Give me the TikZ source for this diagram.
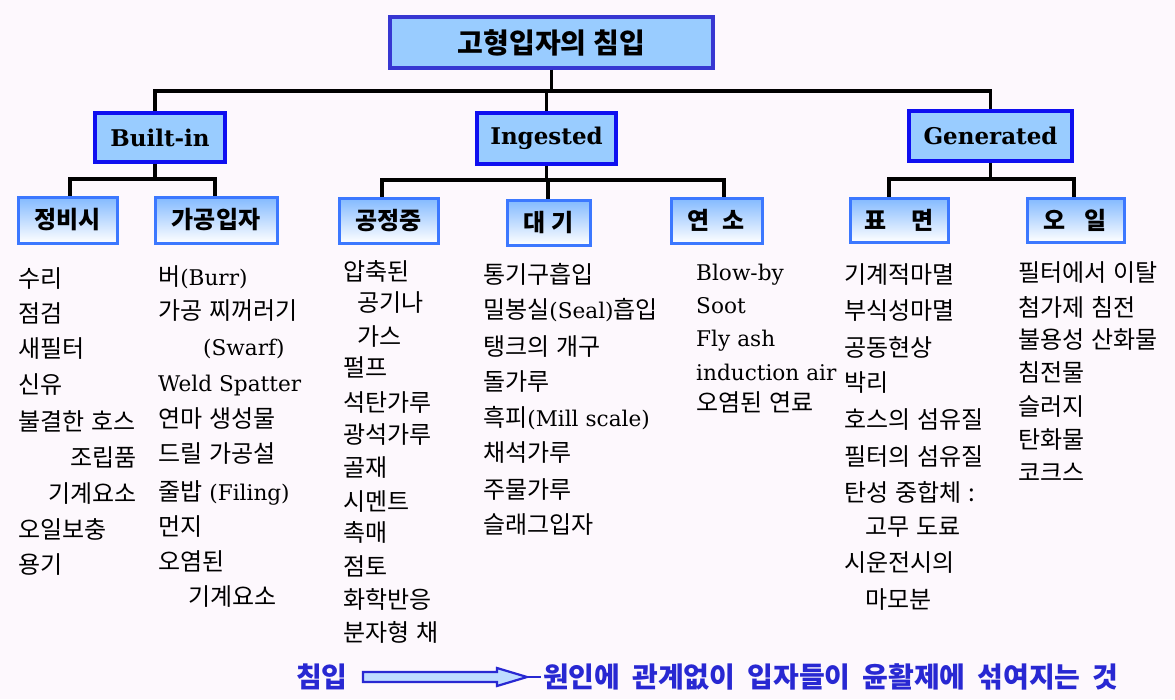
\documentclass[tikz,border=0pt]{standalone}
\usepackage{fontspec}
\newfontfamily\krf{Noto Sans CJK KR}
\newfontfamily\latf{DejaVu Serif}
\newfontfamily\latif[Scale=0.9]{DejaVu Serif}
\newcommand\la[1]{{\latif #1}}
\newcommand\titlefont{\krf\bfseries\fontsize{28}{32}\selectfont\spaceskip 7pt\relax}
\newcommand\itemfont{\krf\fontsize{24}{28}\selectfont\spaceskip 7pt\relax}
\newcommand\botfont{\krf\bfseries\fontsize{28}{32}\selectfont\spaceskip 12pt\relax}
\definecolor{bgcol}{RGB}{253,248,253}
\definecolor{boxblue}{RGB}{153,204,255}
\definecolor{titleborder}{RGB}{55,55,210}
\definecolor{midborder}{RGB}{15,15,240}
\definecolor{subborder}{RGB}{60,120,255}
\definecolor{subtop}{RGB}{130,185,255}
\definecolor{botblue}{RGB}{40,40,210}
\definecolor{arrowfill}{RGB}{190,220,255}
\begin{document}
\begin{tikzpicture}[x=1pt,y=-1pt,
 conn/.style={line width=3.2pt, draw=black},
 titlebox/.style={draw=titleborder, line width=3.2pt, fill=boxblue, inner sep=0, font=\titlefont},
 midbox/.style={draw=midborder, line width=3.2pt, fill=boxblue, inner sep=0,
   font=\latf\bfseries\fontsize{23}{27}\selectfont},
 subbox/.style={draw=subborder, line width=3pt, top color=subtop, bottom color=white, inner sep=0,
   font=\krf\bfseries\fontsize{24}{28}\selectfont},
 item/.style={anchor=base west, inner sep=0, font=\itemfont},
 bottxt/.style={anchor=west, inner sep=0, text=botblue, font=\botfont},
 arrowst/.style={draw=botblue, line width=2.2pt, fill=arrowfill, line join=miter},
]
\fill[bgcol] (0,0) rectangle (1175,699);
\useasboundingbox (0,0) rectangle (1175,699);

% boxes
\node[titlebox, minimum width=323, minimum height=51] (title) at (551.5,42.5) {고형입자의 침입};
\node[midbox, minimum width=130, minimum height=49] (built) at (160,137.5) {Built-in};
\node[midbox, minimum width=139, minimum height=51] (ing) at (546.5,138.5) {Ingested};
\node[midbox, minimum width=163, minimum height=50] (gen) at (990.5,136) {Generated};

\node[subbox, minimum width=99, minimum height=46] (jb) at (67.5,220) {정비시};
\node[subbox, minimum width=122, minimum height=46] (gg) at (216,220) {가공입자};
\node[subbox, minimum width=99, minimum height=45] (gj) at (388.5,220.5) {공정중};
\node[subbox, minimum width=83, minimum height=45] (dg) at (548.5,222.5) {대\hspace{6pt}기};
\node[subbox, minimum width=91, minimum height=45] (ys) at (716.5,220.5) {연\hspace{13pt}소};
\node[subbox, minimum width=98, minimum height=44] (pm) at (899,220) {표\hspace{24pt}면};
\node[subbox, minimum width=97, minimum height=44] (oi) at (1075.5,220) {오\hspace{19pt}일};

% connectors
\coordinate (bus1) at (547,91);
\coordinate (bus2) at (155,179);
\coordinate (bus3) at (548,180);
\coordinate (bus4) at (991,179);
\draw[conn] (title.south) -- (title.south |- bus1);
\draw[conn] ([xshift=-5]built.north) |- (bus1) -| (gen.north);
\draw[conn] (ing.north) -- (ing.north |- bus1);

\draw[conn] ([xshift=-5]built.south) -- (bus2);
\draw[conn] ([xshift=2.5]jb.north) |- (bus2) -| ([xshift=-1]gg.north);

\draw[conn] (ing.south) -- (ing.south |- bus3);
\draw[conn] ([xshift=-6.5]gj.north) |- (bus3) -| ([xshift=7.5]ys.north);
\draw[conn] ([xshift=-0.5]dg.north) -- ([xshift=-0.5]dg.north |- bus3);

\draw[conn] (gen.south) -- (gen.south |- bus4);
\draw[conn] ([xshift=-10]pm.north) |- (bus4) -| ([xshift=-1.5]oi.north);

% column 1
\node[item] (c1a) at (18,287) {수리};
\node[item] (c1b) at (18,322) {점검};
\node[item] (c1c) at (18,357) {새필터};
\node[item] (c1d) at (18,393) {신유};
\node[item] (c1e) at (18,430) {불결한 호스};
\node[item] (c1f) at (70,466) {조립품};
\node[item] (c1g) at (48,502) {기계요소};
\node[item] (c1h) at (18,538) {오일보충};
\node[item] (c1i) at (18,573) {용기};

% column 2
\node[item] (c2a) at (158,285) {버\la{(Burr)}};
\node[item] (c2b) at (158,319) {가공 찌꺼러기};
\node[item] (c2c) at (203,355) {\la{(Swarf)}};
\node[item] (c2d) at (158,391) {\la{Weld Spatter}};
\node[item] (c2e) at (158,427) {연마 생성물};
\node[item] (c2f) at (158,462) {드릴 가공설};
\node[item] (c2g) at (158,500) {줄밥 \la{(Filing)}};
\node[item] (c2h) at (158,535) {먼지};
\node[item] (c2i) at (158,570) {오염된};
\node[item] (c2j) at (188,605) {기계요소};

% column 3
\node[item] (c3a) at (343,280) {압축된};
\node[item] (c3b) at (357,311) {공기나};
\node[item] (c3c) at (357,345) {가스};
\node[item] (c3d) at (343,376) {펄프};
\node[item] (c3e) at (343,411) {석탄가루};
\node[item] (c3f) at (343,443) {광석가루};
\node[item] (c3g) at (343,476) {골재};
\node[item] (c3h) at (343,510) {시멘트};
\node[item] (c3i) at (343,541) {촉매};
\node[item] (c3j) at (343,575) {점토};
\node[item] (c3k) at (343,608) {화학반응};
\node[item] (c3l) at (343,641) {분자형 채};

% column 4
\node[item] (c4a) at (483,283) {통기구흡입};
\node[item] (c4b) at (483,318) {밀봉실\la{(Seal)}흡입};
\node[item] (c4c) at (483,355) {탱크의 개구};
\node[item] (c4d) at (483,390) {돌가루};
\node[item] (c4e) at (483,426) {흑피\la{(Mill scale)}};
\node[item] (c4f) at (483,461) {채석가루};
\node[item] (c4g) at (483,498) {주물가루};
\node[item] (c4h) at (483,533) {슬래그입자};

% column 5
\node[item] (c5a) at (696,280) {\la{Blow-by}};
\node[item] (c5b) at (696,313) {\la{Soot}};
\node[item] (c5c) at (696,346) {\la{Fly ash}};
\node[item] (c5d) at (696,380) {\la{induction air}};
\node[item] (c5e) at (696,411) {오염된 연료};

% column 6
\node[item] (c6a) at (844,283) {기계적마멸};
\node[item] (c6b) at (844,319) {부식성마멸};
\node[item] (c6c) at (844,356) {공동현상};
\node[item] (c6d) at (844,391) {박리};
\node[item] (c6e) at (844,428) {호스의 섬유질};
\node[item] (c6f) at (844,465) {필터의 섬유질};
\node[item] (c6g) at (844,501) {탄성 중합체 :};
\node[item] (c6h) at (865,535) {고무 도료};
\node[item] (c6i) at (844,571) {시운전시의};
\node[item] (c6j) at (865,608) {마모분};

% column 7
\node[item] (c7a) at (1018,281) {필터에서 이탈};
\node[item] (c7b) at (1018,316) {첨가제 침전};
\node[item] (c7c) at (1018,348) {불용성 산화물};
\node[item] (c7d) at (1018,381) {침전물};
\node[item] (c7e) at (1018,415) {슬러지};
\node[item] (c7f) at (1018,448) {탄화물};
\node[item] (c7g) at (1018,481) {코크스};

% bottom line
\node[bottxt] (chim) at (296,677) {침입};
\node[bottxt] (desc) at (543,677) {원인에 관계없이 입자들이 윤활제에 섞여지는 것};
\draw[arrowst] ([shift={(15,-5)}]chim.east) -- ([shift={(-46,-5)}]desc.west)
  -- ([shift={(-46,-9)}]desc.west) -- ([shift={(-16,0)}]desc.west)
  -- ([shift={(-46,9)}]desc.west) -- ([shift={(-46,5)}]desc.west)
  -- ([shift={(15,5)}]chim.east) -- cycle;
\draw[draw=botblue, line width=2.2pt] ([xshift=-16]desc.west) -- ([xshift=-2]desc.west);
\end{tikzpicture}
\end{document}
